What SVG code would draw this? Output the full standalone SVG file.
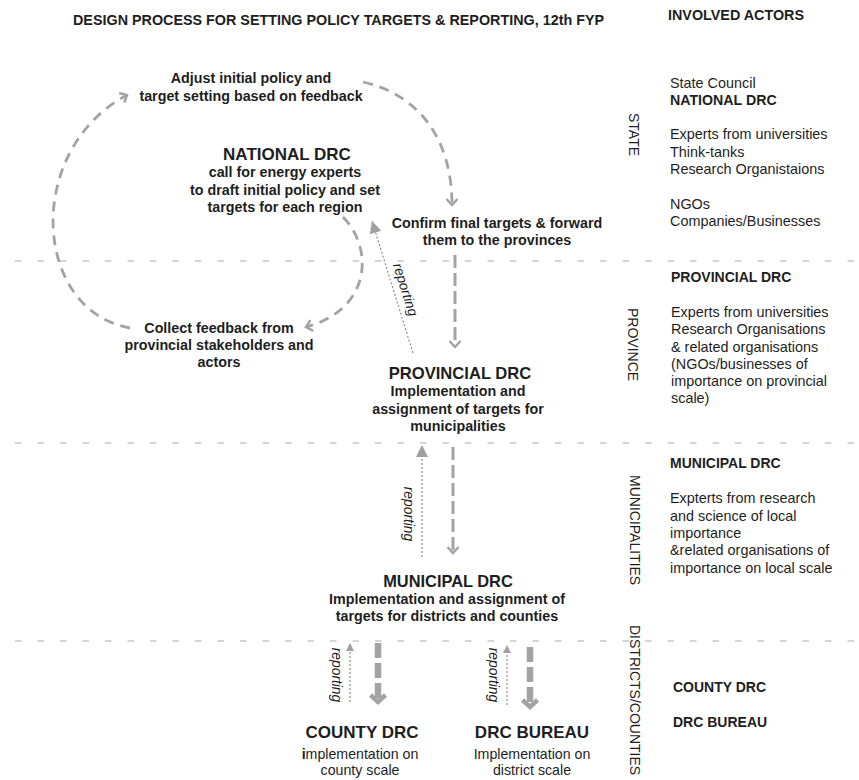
<svg xmlns="http://www.w3.org/2000/svg" width="859" height="780" viewBox="0 0 859 780">
<style>
text{font-family:"Liberation Sans",Arial,sans-serif;fill:#1e1e1e}
.title{font-size:14.35px;font-weight:bold}
.hdr{font-size:17px;font-weight:bold}
.desc{font-size:14.3px;font-weight:bold}
.reg{font-size:14.2px}
.act{font-size:14.4px}
.actb{font-size:14.2px;font-weight:bold}
.lvl{font-size:14px}
.rep{font-size:13.8px;font-style:italic}
.sep{stroke:#d5d5d5;stroke-width:2;stroke-dasharray:6.5 16;fill:none}
.curve{stroke:#a3a3a3;stroke-width:2.8;stroke-dasharray:10 7;fill:none}
.down{stroke:#a3a3a3;stroke-width:3;stroke-dasharray:13 5;fill:none}
.thick{stroke:#a3a3a3;stroke-width:6.5;stroke-dasharray:15 5;fill:none}
.dot{stroke:#8c8c8c;stroke-width:1.2;stroke-dasharray:2 2;fill:none}
</style>
<defs>
<marker id="chev" markerUnits="userSpaceOnUse" markerWidth="20" markerHeight="20" refX="10" refY="10" orient="auto">
<path d="M4,4.5 L10,10 L4,15.5" fill="none" stroke="#a3a3a3" stroke-width="2.5"/>
</marker>
<marker id="chevbig" markerUnits="userSpaceOnUse" markerWidth="24" markerHeight="24" refX="12" refY="12" orient="auto">
<path d="M5,4.5 L12,12 L5,19.5" fill="none" stroke="#a3a3a3" stroke-width="4.5"/>
</marker>
<marker id="tri" markerUnits="userSpaceOnUse" markerWidth="16" markerHeight="16" refX="14" refY="8" orient="auto">
<path d="M2,2 L14,8 L2,14 Z" fill="#a0a0a0"/>
</marker>
<marker id="trismall" markerUnits="userSpaceOnUse" markerWidth="12" markerHeight="12" refX="10" refY="6" orient="auto">
<path d="M2,2 L10,6 L2,10 Z" fill="#a0a0a0"/>
</marker>
</defs>

<g id="separators">
<line class="sep" x1="15" y1="261" x2="859" y2="261"/>
<line class="sep" x1="15" y1="443" x2="859" y2="443"/>
<line class="sep" x1="15" y1="641" x2="859" y2="641"/>
</g>

<g id="title">
<text class="title" x="73" y="25">DESIGN PROCESS FOR SETTING POLICY TARGETS &amp; REPORTING, 12th FYP</text>
<text class="title" x="668" y="19.5">INVOLVED ACTORS</text>
</g>

<g id="levels">
<text class="lvl" transform="translate(629,113) rotate(90)">STATE</text>
<text class="lvl" transform="translate(628,308) rotate(90)">PROVINCE</text>
<text class="lvl" transform="translate(630,475) rotate(90)">MUNICIPALITIES</text>
<text class="lvl" transform="translate(630,625) rotate(90)">DISTRICTS/COUNTIES</text>
</g>

<g id="connectors">
<path class="curve" d="M130,328 C32,310 24,150 127,95" marker-end="url(#chev)"/>
<path class="curve" d="M363,82 C420,95 452,140 452,205" marker-end="url(#chev)"/>
<path class="curve" d="M343,217 C375,250 370,310 306,327" marker-end="url(#chev)"/>
<path class="down" d="M455,255 L455,347" marker-end="url(#chev)"/>
<path class="down" d="M453,447 L453,553" marker-end="url(#chev)"/>
<path class="thick" d="M378,643 L378,702" marker-end="url(#chevbig)"/>
<path class="thick" d="M530,647 L530,707" marker-end="url(#chevbig)"/>
<line class="dot" x1="413" y1="353" x2="372" y2="221" marker-end="url(#tri)"/>
<line class="dot" x1="422" y1="557" x2="422" y2="445" marker-end="url(#tri)"/>
<line class="dot" x1="350" y1="702" x2="350" y2="643" marker-end="url(#trismall)"/>
<line class="dot" x1="507" y1="705" x2="507" y2="645" marker-end="url(#trismall)"/>
<text class="rep" text-anchor="middle" transform="translate(401,291) rotate(72.5)">reporting</text>
<text class="rep" text-anchor="middle" transform="translate(404,514) rotate(90)">reporting</text>
<text class="rep" text-anchor="middle" transform="translate(332,675) rotate(90)">reporting</text>
<text class="rep" text-anchor="middle" transform="translate(489,675) rotate(90)">reporting</text>
</g>

<g id="adjust">
<text class="desc" text-anchor="middle" x="251" y="83">Adjust initial policy and</text>
<text class="desc" text-anchor="middle" x="251" y="100.5">target setting based on feedback</text>
</g>

<g id="national">
<text class="hdr" text-anchor="middle" x="287" y="159.5">NATIONAL DRC</text>
<text class="desc" text-anchor="middle" x="285" y="177">call for energy experts</text>
<text class="desc" text-anchor="middle" x="285" y="194.5">to draft initial policy and set</text>
<text class="desc" text-anchor="middle" x="285" y="212">targets for each region</text>
</g>

<g id="confirm">
<text class="desc" text-anchor="middle" x="497" y="228">Confirm final targets &amp; forward</text>
<text class="desc" text-anchor="middle" x="497" y="245">them to the provinces</text>
</g>

<g id="collect">
<text class="desc" text-anchor="middle" x="219" y="333">Collect feedback from</text>
<text class="desc" text-anchor="middle" x="219" y="350">provincial stakeholders and</text>
<text class="desc" text-anchor="middle" x="219" y="367">actors</text>
</g>

<g id="provincial">
<text class="hdr" text-anchor="middle" x="460" y="379" style="font-size:16.6px">PROVINCIAL DRC</text>
<text class="desc" text-anchor="middle" x="458" y="396">Implementation and</text>
<text class="desc" text-anchor="middle" x="458" y="414">assignment of targets for</text>
<text class="desc" text-anchor="middle" x="458" y="431">municipalities</text>
</g>

<g id="municipal">
<text class="hdr" text-anchor="middle" x="448" y="587" style="font-size:16.4px">MUNICIPAL DRC</text>
<text class="desc" text-anchor="middle" x="447" y="604">Implementation and assignment of</text>
<text class="desc" text-anchor="middle" x="447" y="621">targets for districts and counties</text>
</g>

<g id="county">
<text class="hdr" text-anchor="middle" x="362" y="738">COUNTY DRC</text>
<text class="reg" text-anchor="middle" x="360" y="758.5"><tspan font-weight="bold">i</tspan>mplementation on</text>
<text class="reg" text-anchor="middle" x="360" y="775">county scale</text>
</g>

<g id="bureau">
<text class="hdr" text-anchor="middle" x="532" y="738">DRC BUREAU</text>
<text class="reg" text-anchor="middle" x="532" y="758.5">Implementation on</text>
<text class="reg" text-anchor="middle" x="532" y="775">district scale</text>
</g>

<g id="actors">
<text class="act" x="670" y="88">State Council</text>
<text class="actb" x="670" y="105">NATIONAL DRC</text>
<text class="act" x="670" y="139.3">Experts from universities</text>
<text class="act" x="670" y="156.7">Think-tanks</text>
<text class="act" x="670" y="174.3">Research Organistaions</text>
<text class="act" x="670" y="209">NGOs</text>
<text class="act" x="670" y="226">Companies/Businesses</text>
<text class="actb" x="671" y="282.3" style="font-size:14px">PROVINCIAL DRC</text>
<text class="act" x="671" y="316.7">Experts from universities</text>
<text class="act" x="671" y="334.3">Research Organisations</text>
<text class="act" x="671" y="351.7">&amp; related organisations</text>
<text class="act" x="671" y="368.7">(NGOs/businesses of</text>
<text class="act" x="671" y="386">importance on provincial</text>
<text class="act" x="671" y="403.3">scale)</text>
<text class="actb" x="670" y="468.3" style="font-size:14px">MUNICIPAL DRC</text>
<text class="act" x="670" y="503.3">Expterts from research</text>
<text class="act" x="670" y="520.7">and science of local</text>
<text class="act" x="670" y="537.7">importance</text>
<text class="act" x="670" y="555">&amp;related organisations of</text>
<text class="act" x="670" y="572.7">importance on local scale</text>
<text class="actb" x="673" y="691.7" style="font-size:14px">COUNTY DRC</text>
<text class="actb" x="673" y="726.7" style="font-size:14px">DRC BUREAU</text>
</g>
</svg>
